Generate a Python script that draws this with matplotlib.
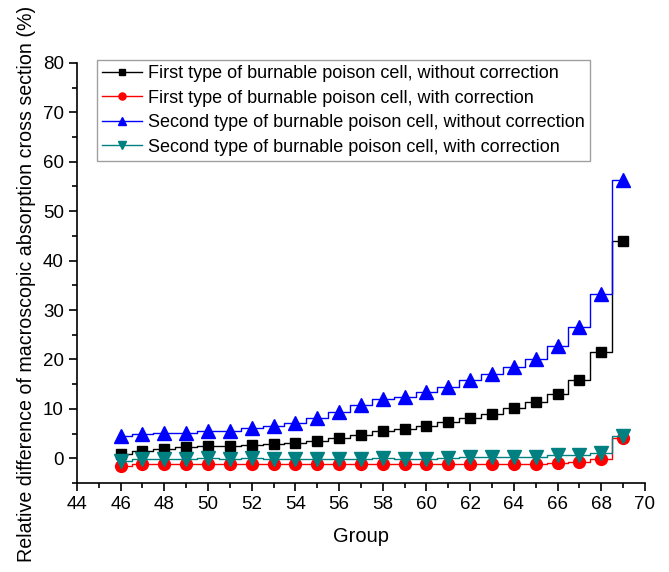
import matplotlib
matplotlib.use('Agg')
import matplotlib.pyplot as plt
from matplotlib.ticker import MultipleLocator

groups = list(range(46, 70))

first_no_corr = [0.9, 1.5, 1.8, 2.2, 2.5, 2.5, 2.7, 2.8, 3.0, 3.4, 4.2, 4.8,
                 5.5, 6.0, 6.5, 7.3, 8.1, 8.9, 10.1, 11.4, 13.1, 15.9, 21.5, 44.0]
first_corr = [-1.5, -1.1, -1.1, -1.1, -1.1, -1.1, -1.1, -1.1, -1.2, -1.1, -1.1, -1.1,
              -1.1, -1.1, -1.1, -1.1, -1.1, -1.1, -1.1, -1.1, -0.9, -0.7, -0.2, 4.2]
second_no_corr = [4.6, 5.0, 5.2, 5.2, 5.5, 5.5, 6.2, 6.5, 7.2, 8.2, 9.3, 10.7,
                  11.9, 12.4, 13.4, 14.5, 15.8, 17.1, 18.4, 20.1, 22.8, 26.5, 33.3, 56.3]
second_corr = [-0.5, -0.2, -0.1, -0.1, 0.1, -0.1, 0.1, -0.1, -0.1, -0.1, -0.1, -0.1,
               0.1, -0.2, -0.2, 0.1, 0.3, 0.3, 0.3, 0.3, 0.6, 0.7, 1.0, 4.5]

labels = ['First type of burnable poison cell, without correction',
          'First type of burnable poison cell, with correction',
          'Second type of burnable poison cell, without correction',
          'Second type of burnable poison cell, with correction']

plt.rcParams['font.family'] = ['Liberation Sans', 'DejaVu Sans']
plt.rcParams['font.size'] = 13

fig = plt.figure(figsize=(6.69, 5.72), dpi=100)
ax = fig.add_axes([0.115, 0.1556, 0.849, 0.7344])

series = [(first_no_corr, 'black', 's', 7.5),
          (first_corr, 'red', 'o', 8.5),
          (second_no_corr, 'blue', '^', 9.5),
          (second_corr, '#008080', 'v', 9.5)]

for (vals, col, mk, ms), lab in zip(series, labels):
    ax.plot(groups, vals, drawstyle='steps-mid', color=col, lw=1,
            marker=mk, markersize=ms, markerfacecolor=col, markeredgecolor=col,
            label=lab)

ax.set_xlim(44, 70)
ax.set_ylim(-5, 80)
ax.xaxis.set_major_locator(MultipleLocator(2))
ax.xaxis.set_minor_locator(MultipleLocator(1))
ax.yaxis.set_major_locator(MultipleLocator(10))
ax.yaxis.set_minor_locator(MultipleLocator(5))
ax.set_yticks(range(0, 81, 10))
ax.spines['top'].set_visible(False)
ax.spines['right'].set_visible(False)
ax.tick_params(which='major', direction='out', length=6, width=1.2, labelsize=13.5)
ax.tick_params(which='minor', direction='out', length=3.5, width=1.2)
for s in ['left', 'bottom']:
    ax.spines[s].set_linewidth(1.2)

ax.set_xlabel('Group', fontsize=14.5, labelpad=10)
ax.set_ylabel('Relative difference of macroscopic absorption cross section (%)',
              fontsize=14.1)
ax.yaxis.set_label_coords(-0.072, 0.474)

leg = ax.legend(loc='upper left', bbox_to_anchor=(0.035, 1.008), borderaxespad=0,
                fontsize=13, frameon=True, fancybox=False, edgecolor='#888888',
                handlelength=2.2, handletextpad=0.35, labelspacing=0.42,
                markerscale=0.6, borderpad=0.3)
leg.get_frame().set_linewidth(1)

fig.savefig('out.png', dpi=100)
